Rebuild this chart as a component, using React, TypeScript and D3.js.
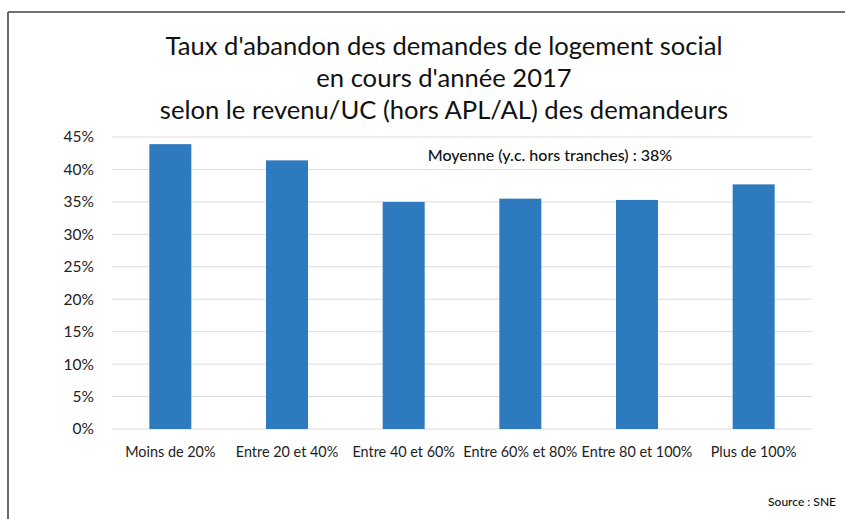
import { scaleBand, scaleLinear } from "d3";

const W = 845;
const H = 519;
const M = { top: 137, right: 33, bottom: 90, left: 112 };

const categories = [
  "Moins de 20%",
  "Entre 20 et 40%",
  "Entre 40 et 60%",
  "Entre 60% et 80%",
  "Entre 80 et 100%",
  "Plus de 100%",
];
const values = [0.439, 0.414, 0.35, 0.355, 0.353, 0.377];
const yTicks = [0, 0.05, 0.1, 0.15, 0.2, 0.25, 0.3, 0.35, 0.4, 0.45];
const titleLines = [
  "Taux d'abandon des demandes de logement social",
  "en cours d'année 2017",
  "selon le revenu/UC (hors APL/AL) des demandeurs",
];
const note = "Moyenne (y.c. hors tranches) : 38%";
const source = "Source : SNE";

const FONT = "Lato, 'Open Sans', sans-serif";

export default function App() {
  const x = scaleBand<string>()
    .domain(categories)
    .range([M.left, W - M.right])
    .paddingInner(0.64)
    .paddingOuter(0.32);
  const y = scaleLinear().domain([0, 0.45]).range([H - M.bottom, M.top]);

  return (
    <svg
      width={W}
      height={H}
      style={{ position: "absolute", left: 0, top: 0, background: "#fff" }}
      fontFamily={FONT}
    >
      {/* frame: only top and left edges show in the crop */}
      <line x1={8} x2={W} y1={12} y2={12} stroke="#444" strokeWidth={1.6} />
      <line x1={8} x2={8} y1={12} y2={H} stroke="#444" strokeWidth={1.6} />

      {titleLines.map((t, i) => (
        <text key={t} x={444} y={55 + i * 32} textAnchor="middle" fontSize={25.6} fill="#111">
          {t}
        </text>
      ))}

      {yTicks.map((t) => (
        <g key={t}>
          <line x1={M.left} x2={W - M.right} y1={y(t)} y2={y(t)} stroke="#dcdcdc" strokeWidth={1} />
          <text x={94} y={y(t)} dy="0.35em" textAnchor="end" fontSize={15.5} fill="#222">
            {Math.round(t * 100)}%
          </text>
        </g>
      ))}

      {categories.map((c, i) => (
        <rect
          key={c}
          x={x(c)}
          y={y(values[i])}
          width={x.bandwidth()}
          height={y(0) - y(values[i])}
          fill="#2e7abf"
        />
      ))}

      {categories.map((c) => (
        <text
          key={c}
          x={(x(c) ?? 0) + x.bandwidth() / 2}
          y={457}
          textAnchor="middle"
          fontSize={14.4}
          fill="#222"
        >
          {c}
        </text>
      ))}

      <text x={550} y={161} textAnchor="middle" fontSize={16} fill="#111" fontWeight={500}>
        {note}
      </text>
      <text x={836} y={506} textAnchor="end" fontSize={12} fill="#111" fontWeight={500}>
        {source}
      </text>
    </svg>
  );
}
